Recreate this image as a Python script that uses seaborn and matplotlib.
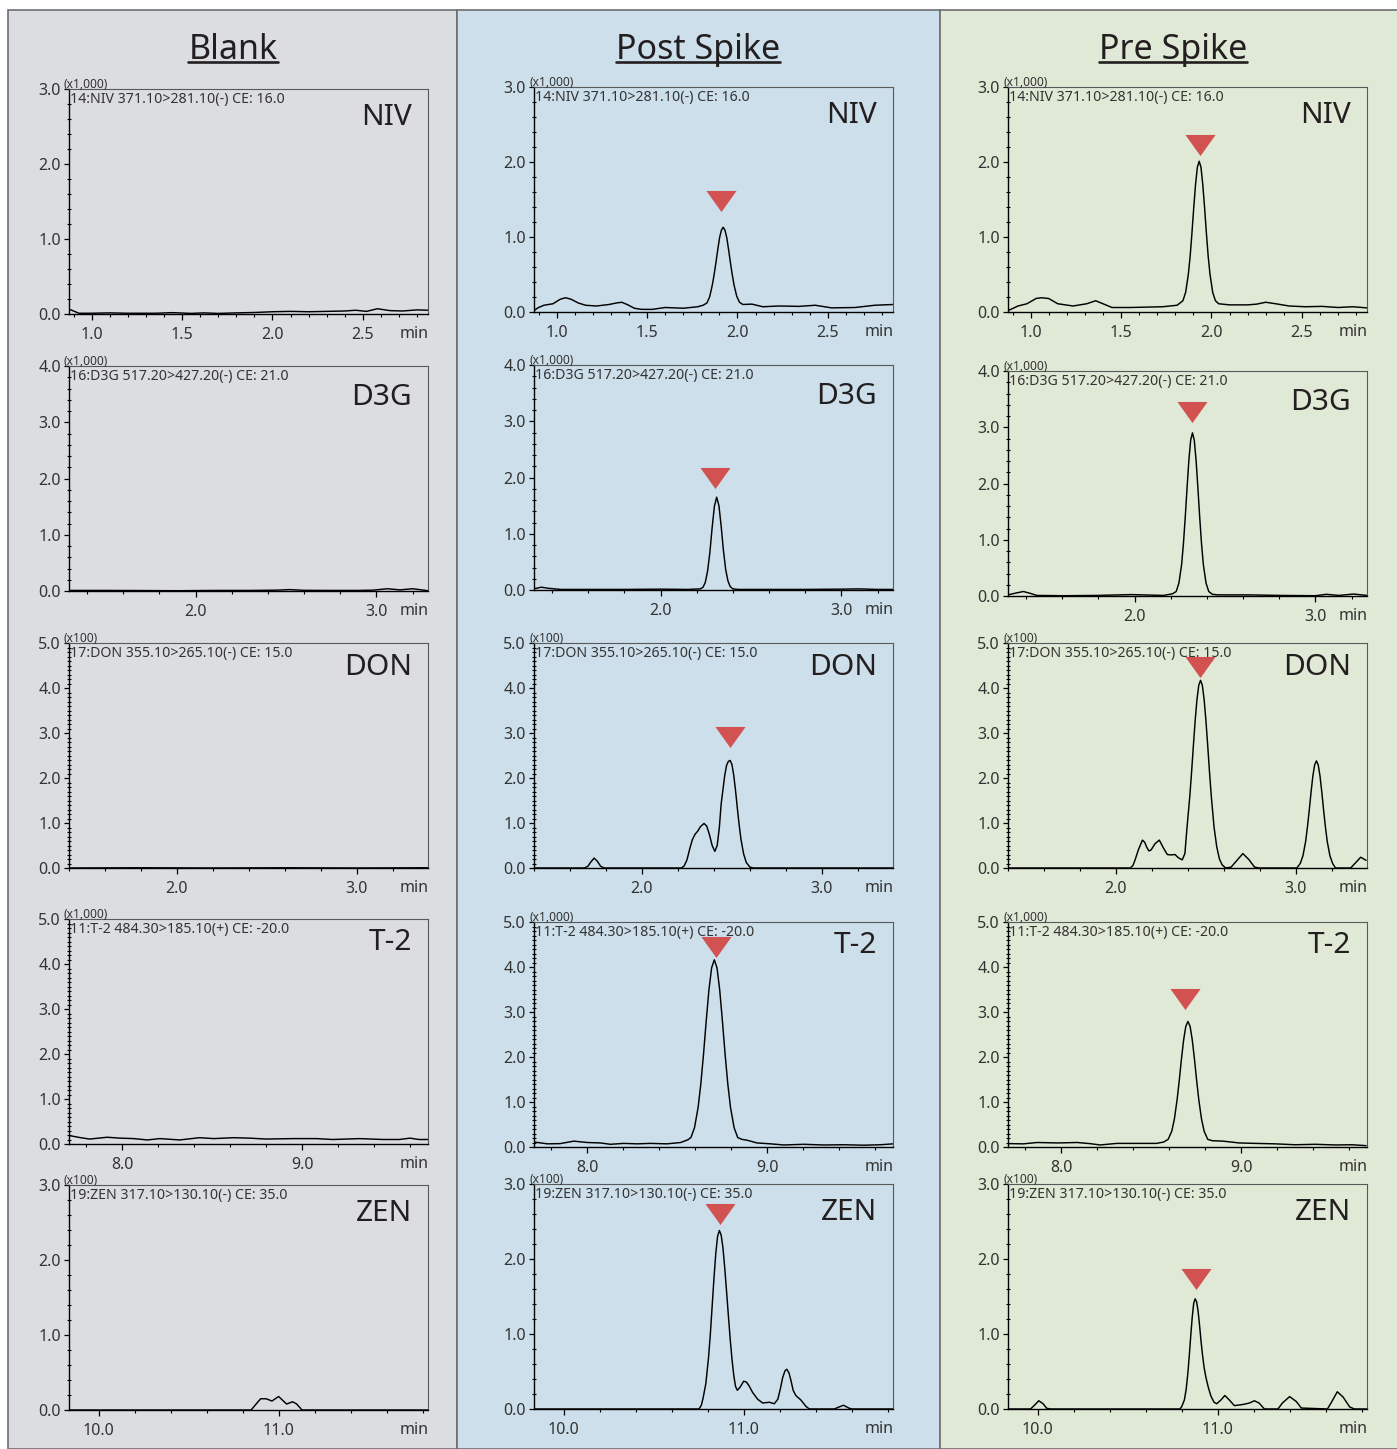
import pandas as pd
import seaborn as sns
import matplotlib.pyplot as plt
from matplotlib.patches import Rectangle
from matplotlib.lines import Line2D
from matplotlib.ticker import MultipleLocator, FixedLocator, FormatStrFormatter

samples = ['Blank', 'Post Spike', 'Pre Spike']
analytes = ['NIV', 'D3G', 'DON', 'T-2', 'ZEN']
channels = ['14:NIV 371.10>281.10(-) CE: 16.0', '16:D3G 517.20>427.20(-) CE: 21.0',
            '17:DON 355.10>265.10(-) CE: 15.0', '11:T-2 484.30>185.10(+) CE: -20.0',
            '19:ZEN 317.10>130.10(-) CE: 35.0']
scales = ['(x1,000)', '(x1,000)', '(x100)', '(x1,000)', '(x100)']
y_max = [3.0, 4.0, 5.0, 5.0, 3.0]
y_minor = [0.2, 0.2, 0.1, 0.1, 0.2]
x_lims = [(0.875, 2.86), (1.30, 3.285), (1.40, 3.395), (7.705, 9.70), (9.835, 11.83)]
x_major = [[1.0, 1.5, 2.0, 2.5], [2.0, 3.0], [2.0, 3.0], [8.0, 9.0], [10.0, 11.0]]
x_minor = [0.1, 0.2, 0.2, 0.2, 0.2]

# chromatogram traces: (time [min], intensity in axis units)
niv_blank = [(0.88, 0.06), (0.93, 0.01), (1.00, 0.01), (1.10, 0.015), (1.20, 0.01), (1.35, 0.01),
             (1.45, 0.018), (1.55, 0.008), (1.62, 0.015), (1.70, 0.008), (1.80, 0.015), (1.90, 0.02),
             (2.00, 0.03), (2.10, 0.035), (2.20, 0.03), (2.30, 0.035), (2.40, 0.04), (2.46, 0.05),
             (2.52, 0.035), (2.58, 0.07), (2.65, 0.045), (2.72, 0.04), (2.80, 0.055), (2.86, 0.05)]
niv_post = [(0.875, 0.02), (0.90, 0.06), (0.93, 0.09), (0.98, 0.11), (1.02, 0.17), (1.05, 0.19),
            (1.08, 0.17), (1.12, 0.12), (1.16, 0.09), (1.22, 0.08), (1.29, 0.10), (1.33, 0.12),
            (1.36, 0.13), (1.39, 0.10), (1.43, 0.05), (1.47, 0.035), (1.53, 0.035), (1.60, 0.06),
            (1.70, 0.05), (1.78, 0.07), (1.81, 0.09), (1.831, 0.12), (1.846, 0.20), (1.861, 0.36),
            (1.871, 0.50), (1.881, 0.66), (1.891, 0.83), (1.901, 0.99), (1.911, 1.09), (1.921, 1.13),
            (1.931, 1.09), (1.941, 0.99), (1.951, 0.83), (1.961, 0.66), (1.971, 0.50), (1.981, 0.36),
            (1.996, 0.21), (2.011, 0.13), (2.03, 0.10), (2.08, 0.105), (2.14, 0.07), (2.23, 0.08),
            (2.34, 0.075), (2.43, 0.09), (2.52, 0.055), (2.65, 0.06), (2.76, 0.09), (2.86, 0.10)]
niv_pre = [(0.877, 0.02), (0.93, 0.08), (0.98, 0.11), (1.03, 0.18), (1.06, 0.19), (1.10, 0.18),
           (1.15, 0.11), (1.235, 0.08), (1.31, 0.11), (1.36, 0.15), (1.40, 0.11), (1.45, 0.06),
           (1.55, 0.06), (1.73, 0.07), (1.81, 0.09), (1.842, 0.15), (1.857, 0.26), (1.872, 0.50),
           (1.882, 0.74), (1.892, 1.05), (1.902, 1.39), (1.912, 1.70), (1.922, 1.93), (1.932, 2.01),
           (1.942, 1.93), (1.952, 1.70), (1.962, 1.39), (1.972, 1.05), (1.982, 0.74), (1.992, 0.50),
           (2.007, 0.26), (2.022, 0.15), (2.04, 0.11), (2.10, 0.095), (2.20, 0.095), (2.25, 0.105),
           (2.30, 0.13), (2.355, 0.11), (2.43, 0.08), (2.52, 0.07), (2.61, 0.075), (2.70, 0.06),
           (2.78, 0.07), (2.86, 0.055)]
d3g_blank = [(1.30, 0.01), (1.50, 0.01), (1.70, 0.008), (1.90, 0.005), (2.10, 0.01), (2.30, 0.01),
             (2.45, 0.015), (2.52, 0.025), (2.60, 0.012), (2.75, 0.01), (2.90, 0.01), (2.98, 0.015),
             (3.06, 0.04), (3.13, 0.02), (3.20, 0.04), (3.25, 0.02), (3.285, 0.005)]
d3g_post = [(1.30, 0.02), (1.34, 0.05), (1.38, 0.03), (1.45, 0.01), (1.60, 0.01), (1.80, 0.01),
            (2.00, 0.015), (2.15, 0.01), (2.22, 0.02), (2.235, 0.05), (2.2475, 0.14), (2.26, 0.34),
            (2.2725, 0.67), (2.285, 1.11), (2.2975, 1.49), (2.31, 1.65), (2.3225, 1.50), (2.335, 1.13),
            (2.3475, 0.70), (2.36, 0.36), (2.3725, 0.16), (2.385, 0.06), (2.40, 0.02), (2.43, 0.01),
            (2.60, 0.01), (2.80, 0.01), (3.00, 0.015), (3.10, 0.02), (3.20, 0.01), (3.285, 0.01)]
d3g_pre = [(1.30, 0.02), (1.34, 0.05), (1.385, 0.08), (1.42, 0.05), (1.46, 0.01), (1.61, 0.005),
           (1.79, 0.01), (1.98, 0.025), (2.16, 0.01), (2.21, 0.04), (2.23, 0.08), (2.245, 0.23),
           (2.26, 0.56), (2.27, 0.93), (2.28, 1.40), (2.29, 1.92), (2.30, 2.41), (2.31, 2.77),
           (2.32, 2.90), (2.33, 2.77), (2.34, 2.41), (2.35, 1.92), (2.36, 1.40), (2.37, 0.93),
           (2.38, 0.56), (2.395, 0.23), (2.41, 0.08), (2.43, 0.03), (2.46, 0.02), (2.63, 0.02),
           (2.81, 0.01), (3.00, 0.005), (3.06, 0.03), (3.13, 0.01), (3.21, 0.035), (3.285, 0.01)]
don_blank = [(1.40, 0.0), (1.80, 0.005), (2.20, 0.0), (2.60, 0.005), (3.00, 0.0), (3.395, 0.005)]
don_post = [(1.40, 0.0), (1.68, 0.0), (1.70, 0.04), (1.715, 0.13), (1.734, 0.22), (1.752, 0.15),
            (1.77, 0.04), (1.79, 0.0), (2.22, 0.0), (2.235, 0.05), (2.25, 0.18), (2.265, 0.42),
            (2.28, 0.63), (2.295, 0.75), (2.31, 0.82), (2.325, 0.92), (2.345, 0.99), (2.36, 0.93),
            (2.375, 0.74), (2.39, 0.50), (2.405, 0.37), (2.418, 0.50), (2.43, 0.90), (2.44, 1.42),
            (2.45, 1.74), (2.46, 2.06), (2.47, 2.28), (2.48, 2.37), (2.49, 2.39), (2.50, 2.30),
            (2.51, 2.06), (2.52, 1.72), (2.53, 1.33), (2.54, 0.96), (2.55, 0.64), (2.565, 0.31),
            (2.58, 0.12), (2.60, 0.02), (2.62, 0.0), (3.395, 0.0)]
don_pre = [(1.407, 0.0), (2.08, 0.0), (2.095, 0.06), (2.107, 0.19), (2.125, 0.41), (2.147, 0.62),
           (2.16, 0.57), (2.171, 0.46), (2.183, 0.38), (2.195, 0.40), (2.217, 0.54), (2.241, 0.62),
           (2.263, 0.45), (2.285, 0.30), (2.304, 0.29), (2.328, 0.30), (2.346, 0.23), (2.368, 0.18),
           (2.383, 0.32), (2.395, 0.91), (2.41, 1.58), (2.42, 2.12), (2.43, 2.71), (2.44, 3.27),
           (2.45, 3.74), (2.46, 4.06), (2.47, 4.17), (2.48, 4.06), (2.49, 3.74), (2.50, 3.27),
           (2.51, 2.71), (2.52, 2.12), (2.53, 1.58), (2.545, 0.91), (2.56, 0.47), (2.575, 0.20),
           (2.59, 0.07), (2.61, 0.0), (2.64, 0.02), (2.668, 0.15), (2.705, 0.32), (2.738, 0.19),
           (2.77, 0.02), (2.797, 0.0), (3.005, 0.0), (3.024, 0.10), (3.039, 0.27), (3.054, 0.59),
           (3.064, 0.91), (3.074, 1.28), (3.084, 1.68), (3.094, 2.04), (3.104, 2.29), (3.114, 2.38),
           (3.124, 2.29), (3.134, 2.04), (3.144, 1.68), (3.154, 1.28), (3.164, 0.91), (3.174, 0.59),
           (3.189, 0.27), (3.204, 0.10), (3.22, 0.0), (3.304, 0.0), (3.33, 0.11), (3.36, 0.24),
           (3.39, 0.17)]
t2_blank = [(7.71, 0.185), (7.77, 0.14), (7.82, 0.11), (7.917, 0.15), (7.99, 0.13), (8.065, 0.12),
            (8.14, 0.09), (8.21, 0.12), (8.32, 0.09), (8.43, 0.14), (8.51, 0.12), (8.62, 0.14),
            (8.71, 0.13), (8.80, 0.11), (8.95, 0.12), (9.08, 0.12), (9.17, 0.10), (9.32, 0.12),
            (9.45, 0.10), (9.54, 0.10), (9.60, 0.13), (9.65, 0.10), (9.70, 0.10)]
t2_post = [(7.707, 0.11), (7.78, 0.07), (7.85, 0.075), (7.926, 0.13), (8.0, 0.10), (8.074, 0.09),
           (8.13, 0.06), (8.204, 0.08), (8.28, 0.07), (8.35, 0.08), (8.444, 0.07), (8.52, 0.10),
           (8.56, 0.16), (8.577, 0.21), (8.597, 0.43), (8.617, 0.88), (8.632, 1.40), (8.647, 2.06),
           (8.662, 2.80), (8.677, 3.49), (8.692, 3.98), (8.707, 4.16), (8.722, 3.98), (8.737, 3.49),
           (8.752, 2.80), (8.767, 2.06), (8.782, 1.40), (8.797, 0.88), (8.817, 0.43), (8.837, 0.21),
           (8.86, 0.17), (8.89, 0.15), (8.944, 0.09), (9.02, 0.07), (9.093, 0.045), (9.204, 0.06),
           (9.315, 0.045), (9.426, 0.05), (9.537, 0.04), (9.63, 0.05), (9.70, 0.07)]
t2_pre = [(7.71, 0.075), (7.79, 0.07), (7.867, 0.10), (7.98, 0.09), (8.09, 0.10), (8.16, 0.075),
          (8.217, 0.045), (8.31, 0.08), (8.42, 0.08), (8.53, 0.08), (8.57, 0.11), (8.595, 0.17),
          (8.615, 0.35), (8.63, 0.63), (8.645, 1.06), (8.657, 1.49), (8.669, 1.96), (8.681, 2.38),
          (8.693, 2.68), (8.705, 2.79), (8.717, 2.68), (8.729, 2.38), (8.741, 1.96), (8.753, 1.49),
          (8.765, 1.06), (8.78, 0.63), (8.795, 0.35), (8.815, 0.17), (8.84, 0.14), (8.90, 0.13),
          (8.99, 0.09), (9.08, 0.08), (9.19, 0.07), (9.30, 0.05), (9.414, 0.06), (9.525, 0.045),
          (9.617, 0.05), (9.695, 0.03)]
zen_blank = [(9.835, 0.0), (10.847, 0.0), (10.875, 0.08), (10.90, 0.15), (10.93, 0.15), (10.963, 0.12),
             (11.0, 0.18), (11.044, 0.08), (11.078, 0.11), (11.10, 0.08), (11.13, 0.0), (11.83, 0.0)]
zen_post = [(9.835, 0.0), (10.752, 0.0), (10.765, 0.05), (10.775, 0.15), (10.79, 0.34), (10.805, 0.69),
            (10.815, 1.00), (10.825, 1.37), (10.835, 1.74), (10.845, 2.07), (10.855, 2.30), (10.865, 2.38),
            (10.875, 2.32), (10.885, 2.15), (10.895, 1.88), (10.905, 1.57), (10.915, 1.25), (10.925, 0.94),
            (10.935, 0.67), (10.945, 0.45), (10.955, 0.30), (10.965, 0.25), (10.98, 0.29), (11.0, 0.37),
            (11.015, 0.36), (11.03, 0.31), (11.05, 0.22), (11.078, 0.13), (11.106, 0.08), (11.143, 0.09),
            (11.17, 0.07), (11.19, 0.13), (11.205, 0.28), (11.217, 0.42), (11.23, 0.51), (11.24, 0.53),
            (11.252, 0.48), (11.263, 0.38), (11.275, 0.25), (11.29, 0.18), (11.318, 0.12), (11.346, 0.036),
            (11.365, 0.0), (11.504, 0.0), (11.53, 0.027), (11.555, 0.05), (11.587, 0.01), (11.605, 0.0),
            (11.83, 0.0)]
zen_pre = [(9.838, 0.0), (9.96, 0.0), (9.98, 0.045), (10.006, 0.11), (10.03, 0.07), (10.05, 0.01),
           (10.07, 0.0), (10.79, 0.0), (10.80, 0.03), (10.815, 0.12), (10.825, 0.26), (10.835, 0.49),
           (10.843, 0.73), (10.851, 0.99), (10.859, 1.23), (10.867, 1.41), (10.875, 1.47), (10.883, 1.43),
           (10.891, 1.31), (10.899, 1.13), (10.907, 0.92), (10.915, 0.74), (10.925, 0.55), (10.935, 0.42),
           (10.948, 0.29), (10.963, 0.17), (10.98, 0.09), (10.995, 0.07), (11.02, 0.125), (11.04, 0.18),
           (11.065, 0.12), (11.093, 0.045), (11.14, 0.06), (11.177, 0.08), (11.204, 0.11), (11.23, 0.08),
           (11.26, 0.0), (11.335, 0.0), (11.36, 0.08), (11.40, 0.165), (11.437, 0.10), (11.465, 0.013),
           (11.61, 0.0), (11.63, 0.08), (11.665, 0.23), (11.697, 0.16), (11.734, 0.027), (11.76, 0.0),
           (11.83, 0.0)]

# peak flags (triangle centres), Post Spike and Pre Spike
post_marks = [(1.91, 1.48), (2.30, 1.99), (2.49, 2.92), (8.717, 4.45), (10.87, 2.60)]
pre_marks = [(1.934, 2.22), (2.315, 3.27), (2.466, 4.47), (8.69, 3.30), (10.88, 1.74)]

traces = {
    'Blank': [niv_blank, d3g_blank, don_blank, t2_blank, zen_blank],
    'Post Spike': [niv_post, d3g_post, don_post, t2_post, zen_post],
    'Pre Spike': [niv_pre, d3g_pre, don_pre, t2_pre, zen_pre],
}
marks = {'Post Spike': post_marks, 'Pre Spike': pre_marks}

rows = []
for s in samples:
    for a, pts in zip(analytes, traces[s]):
        for t, v in pts:
            rows.append((s, a, t, v))
df = pd.DataFrame(rows, columns=['sample', 'analyte', 'time', 'intensity'])

sns.set_style('ticks')
plt.rcParams['font.family'] = ['Noto Sans', 'DejaVu Sans']
plt.rcParams['axes.facecolor'] = 'none'

W, H = 1397, 1449
fig = plt.figure(figsize=(W / 100, H / 100), dpi=100)

col_x = [8, 457, 940]
col_w = [449, 483, 470]
col_bg = ['#dcdde0', '#cddfea', '#dfe9d6']
for x0, w, c in zip(col_x, col_w, col_bg):
    fig.add_artist(Rectangle((x0 / W, 0), w / W, (H - 10) / H, transform=fig.transFigure,
                             facecolor=c, edgecolor='#6d6e71', lw=1.2, zorder=-5))

ax_left = [69, 534, 1008]
ax_w, ax_h = 359, 225
ax_tops = [[89, 366, 643, 919, 1185], [87, 365, 643, 922, 1184], [87, 371, 643, 922, 1184]]
label_drop = [36, 39, 32, 31, 36]
title_x = [233, 698, 1173]
text_col = '#231f20'
tick_col = '#333333'
tri = [(-1, 0.7), (1, 0.7), (0, -0.7)]

titles = []
for ci, s in enumerate(samples):
    titles.append(fig.text(title_x[ci] / W, 1 - 59 / H, s, ha='center', va='baseline',
                           fontsize=24.5, color=text_col))
    for ri, a in enumerate(analytes):
        top = ax_tops[ci][ri]
        ax = fig.add_axes([ax_left[ci] / W, 1 - (top + ax_h) / H, ax_w / W, ax_h / H])
        sub = df[(df['sample'] == s) & (df['analyte'] == a)]
        sns.lineplot(data=sub, x='time', y='intensity', ax=ax, color='black', lw=1.05,
                     estimator=None, sort=False)
        if s in marks:
            mx, my = marks[s][ri]
            sns.scatterplot(x=[mx], y=[my], ax=ax, marker=tri, s=470, color='#d25252',
                            linewidth=0, zorder=5)
        ax.set_xlim(*x_lims[ri])
        ax.set_ylim(0, y_max[ri])
        ax.set_xlabel('')
        ax.set_ylabel('')
        ax.xaxis.set_major_locator(FixedLocator(x_major[ri]))
        ax.xaxis.set_minor_locator(MultipleLocator(x_minor[ri]))
        ax.yaxis.set_major_locator(MultipleLocator(1.0))
        ax.yaxis.set_minor_locator(MultipleLocator(y_minor[ri]))
        ax.xaxis.set_major_formatter(FormatStrFormatter('%.1f'))
        ax.yaxis.set_major_formatter(FormatStrFormatter('%.1f'))
        ax.tick_params(axis='x', which='major', direction='out', length=4.5, width=0.9,
                       pad=5.0, labelsize=11.5, labelcolor=tick_col, color='black')
        ax.tick_params(axis='x', which='minor', direction='out', length=2.5, width=0.8, color='black')
        ax.tick_params(axis='y', which='major', direction='out', length=3.6, width=0.9,
                       pad=2.3, labelsize=11.5, labelcolor=tick_col, color='black')
        ax.tick_params(axis='y', which='minor', direction='inout', length=3.0, width=0.8, color='black')
        for side in ['left', 'bottom']:
            ax.spines[side].set_color('black')
            ax.spines[side].set_linewidth(1.0)
        for side in ['top', 'right']:
            ax.spines[side].set_visible(True)
            ax.spines[side].set_color('#58595b')
            ax.spines[side].set_linewidth(0.8)
        ax.annotate(channels[ri], xy=(0, 1), xycoords='axes fraction', xytext=(1, -3),
                    textcoords='offset pixels', ha='left', va='top', fontsize=10.2, color=tick_col)
        ax.annotate(scales[ri], xy=(0, 1), xycoords='axes fraction', xytext=(-5, 1),
                    textcoords='offset pixels', ha='left', va='baseline', fontsize=8.6, color=tick_col)
        ax.annotate(a, xy=(1, 1), xycoords='axes fraction', xytext=(-16, -label_drop[ri]),
                    textcoords='offset pixels', ha='right', va='baseline', fontsize=21.5, color=text_col)
        ax.annotate('min', xy=(1, 0), xycoords='axes fraction', xytext=(1, -12),
                    textcoords='offset pixels', ha='right', va='top', fontsize=11.5, color=tick_col)

# underline the column titles
fig.canvas.draw()
r = fig.canvas.get_renderer()
for t in titles:
    bb = t.get_window_extent(r)
    fig.add_artist(Line2D([bb.x0 / W, bb.x1 / W], [1 - 62 / H, 1 - 62 / H], transform=fig.transFigure,
                          color=text_col, lw=1.9))

fig.savefig('out.png', dpi=100)
